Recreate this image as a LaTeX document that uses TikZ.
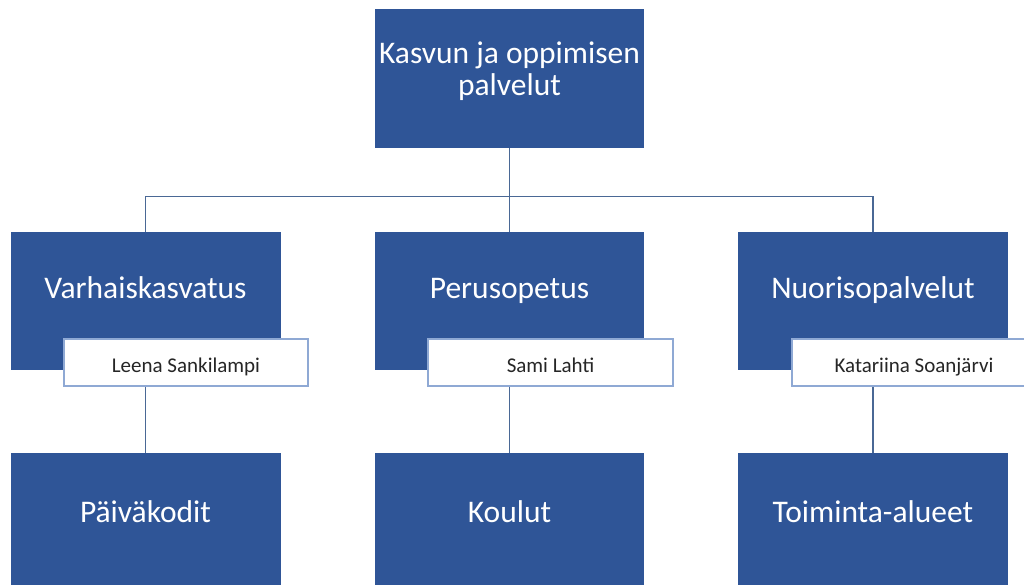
\documentclass[tikz,border=0pt]{standalone}
\usepackage{fontspec}
\setmainfont{Carlito}
\definecolor{boxblue}{HTML}{2F5597}
\definecolor{linecol}{HTML}{4A6895}
\definecolor{namebord}{HTML}{8FA9D4}
\begin{document}
\begin{tikzpicture}[x=1pt,y=-1pt,
  unitbox/.style={fill=boxblue, draw=none, inner sep=0pt, minimum width=270pt, minimum height=138pt},
  namebox/.style={fill=white, draw=namebord, line width=1.2pt, inner sep=0pt, minimum width=244pt, minimum height=47pt},
  bigtext/.style={text=white, font=\fontsize{31.5}{32}\selectfont, anchor=base, inner sep=0pt},
  nametext/.style={text=black!85, font=\fontsize{21}{22}\selectfont, anchor=base, inner sep=0pt},
  conn/.style={draw=linecol, line width=1.4pt}]
\useasboundingbox (0,0) rectangle (1024,584);
\clip (0,0) rectangle (1024,584);
% boxes (positions)
\node[unitbox, minimum width=269pt, minimum height=139pt] (top) at (509.5,78.5) {};
\node[unitbox] (varh) at (145.5,301) {};
\node[unitbox, minimum width=269pt] (peru) at (509.5,301) {};
\node[unitbox] (nuor) at (873,301) {};
\node[unitbox, minimum height=150pt] (paiv) at (145.5,528) {};
\node[unitbox, minimum width=269pt, minimum height=150pt] (koul) at (509.5,528) {};
\node[unitbox, minimum height=150pt] (toim) at (873,528) {};
% connectors
\draw[conn] (top.south) -- (peru.north);
\draw[conn] (top.south) -- ++(0,48.5) -| (varh.north);
\draw[conn] (top.south) -- ++(0,48.5) -| (nuor.north);
\draw[conn] (varh.south) -- (paiv.north);
\draw[conn] (peru.south) -- (koul.north);
\draw[conn] (nuor.south) -- (toim.north);
% name boxes
\node[namebox] (nleena) at (186,362.5) {};
\node[namebox, minimum width=245pt] (nsami) at (550.5,362.5) {};
\node[namebox] (nkata) at (914,362.5) {};
% texts
\node[bigtext] (t1) at (509.5,63) {Kasvun ja oppimisen};
\node[bigtext] (t2) at (509.5,95) {palvelut};
\node[bigtext] (tv) at (145.5,298) {Varhaiskasvatus};
\node[bigtext] (tp) at (509.5,298) {Perusopetus};
\node[bigtext] (tn) at (873,298) {Nuorisopalvelut};
\node[bigtext] (tpa) at (145.5,522) {Päiväkodit};
\node[bigtext] (tk) at (509.5,522) {Koulut};
\node[bigtext] (tt) at (873,522) {Toiminta-alueet};
\node[nametext] (l1) at (nleena.center) [yshift=-9.5pt] {Leena Sankilampi};
\node[nametext] (l2) at (nsami.center) [yshift=-9.5pt] {Sami Lahti};
\node[nametext] (l3) at (nkata.center) [yshift=-9.5pt] {Katariina Soanjärvi};
\end{tikzpicture}
\end{document}
